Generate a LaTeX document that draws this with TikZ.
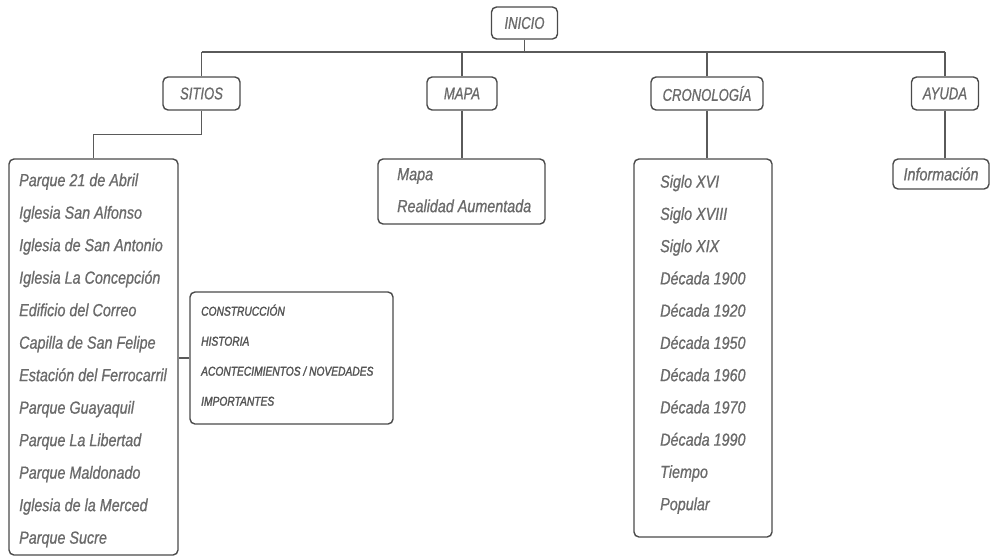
\documentclass[tikz,border=0pt]{standalone}
\usepackage{fontspec}
\newfontfamily\boxfont[FakeStretch=0.77,FakeBold=0.8]{Liberation Sans}
\newfontfamily\itemfont[FakeStretch=0.82,FakeBold=0.8]{Liberation Sans}
\newfontfamily\subfont[FakeStretch=0.8,FakeBold=1.8]{Liberation Sans}
\definecolor{boxc}{HTML}{4A4A4A}
\definecolor{linec}{HTML}{5A5A5A}
\definecolor{txtc}{HTML}{6A6A6A}
\definecolor{subc}{HTML}{555555}
\begin{document}
\begin{tikzpicture}[x=1pt,y=-1pt,
  box/.style={draw=boxc, line width=1.4pt, rounded corners=5pt, inner sep=0pt},
  toplabel/.style={box, font=\boxfont\itshape\fontsize{17}{17}\selectfont, text=txtc, minimum height=33pt},
  item/.style={anchor=mid west, inner sep=0pt, font=\itemfont\itshape\fontsize{17.5}{17.5}\selectfont, text=txtc},
  subitem/.style={anchor=mid west, inner sep=0pt, font=\subfont\itshape\fontsize{12.8}{12.8}\selectfont, text=subc},
  link/.style={draw=linec, line width=1.3pt}]
\fill[white] (0,0) rectangle (990,558);
\useasboundingbox (0,0) rectangle (990,558);

% top level boxes
\node[toplabel, minimum width=66pt, minimum height=32pt] (inicio) at (524.5,23) {INICIO};
\node[toplabel, minimum width=77pt] (sitios) at (201.5,93.5) {SITIOS};
\node[toplabel, minimum width=70pt] (mapa) at (462,93.5) {MAPA};
\node[toplabel, minimum width=112pt] (crono) at (707,93.5) {CRONOLOGÍA};
\node[toplabel, minimum width=67pt] (ayuda) at (945,93.5) {AYUDA};

% list boxes
\node[box, minimum width=169pt, minimum height=396pt] (sitioslist) at (93.5,357) {};
\node[box, minimum width=167pt, minimum height=65pt] (mapalist) at (461.5,191.5) {};
\node[box, minimum width=138pt, minimum height=378pt] (cronolist) at (703,348) {};
\node[box, minimum width=96pt, minimum height=30pt, font=\itemfont\itshape\fontsize{17.5}{17.5}\selectfont, text=txtc] (info) at (941,174) {Información};
\node[box, minimum width=203pt, minimum height=132pt] (sub) at (291.5,358) {};

% connectors
\coordinate (busL) at (201.5,52);
\coordinate (busR) at (945,52);
\draw[link] (busL) -- (busR);
\draw[link] (inicio.south) -- (inicio.south |- busL);
\draw[link] (sitios.north) -- (sitios.north |- busL);
\draw[link] (mapa.north) -- (mapa.north |- busL);
\draw[link] (crono.north) -- (crono.north |- busL);
\draw[link] (ayuda.north) -- (ayuda.north |- busL);
\draw[link] (sitios.south) -- ++(0,24) -| (sitioslist.north);
\draw[link] (mapa.south) -- (mapa.south |- mapalist.north);
\draw[link] (crono.south) -- (crono.south |- cronolist.north);
\draw[link] (ayuda.south) -- (ayuda.south |- info.north);
\draw[link] (sub.west) -- (sub.west -| sitioslist.east);

% sitios items
\node[item] (s1) at (19,184) {Parque 21 de Abril};
\node[item] (s2) at (19,216.5) {Iglesia San Alfonso};
\node[item] (s3) at (19,249) {Iglesia de San Antonio};
\node[item] (s4) at (19,281.5) {Iglesia La Concepción};
\node[item] (s5) at (19,314) {Edificio del Correo};
\node[item] (s6) at (19,346.5) {Capilla de San Felipe};
\node[item] (s7) at (19,379) {Estación del Ferrocarril};
\node[item] (s8) at (19,411.5) {Parque Guayaquil};
\node[item] (s9) at (19,444) {Parque La Libertad};
\node[item] (s10) at (19,476.5) {Parque Maldonado};
\node[item] (s11) at (19,509) {Iglesia de la Merced};
\node[item] (s12) at (19,541.5) {Parque Sucre};

% sub items
\node[subitem] (u1) at (201,313.5) {CONSTRUCCIÓN};
\node[subitem] (u2) at (201,343.5) {HISTORIA};
\node[subitem] (u3) at (201,373.5) {ACONTECIMIENTOS / NOVEDADES};
\node[subitem] (u4) at (201,403.5) {IMPORTANTES};

% mapa items
\node[item] (m1) at (397,178) {Mapa};
\node[item] (m2) at (397,210) {Realidad Aumentada};

% crono items
\node[item] (c1) at (660,185.5) {Siglo XVI};
\node[item] (c2) at (660,217.75) {Siglo XVIII};
\node[item] (c3) at (660,250) {Siglo XIX};
\node[item] (c4) at (660,282.25) {Década 1900};
\node[item] (c5) at (660,314.5) {Década 1920};
\node[item] (c6) at (660,346.75) {Década 1950};
\node[item] (c7) at (660,379) {Década 1960};
\node[item] (c8) at (660,411.25) {Década 1970};
\node[item] (c9) at (660,443.5) {Década 1990};
\node[item] (c10) at (660,475.75) {Tiempo};
\node[item] (c11) at (660,508) {Popular};
\end{tikzpicture}
\end{document}
